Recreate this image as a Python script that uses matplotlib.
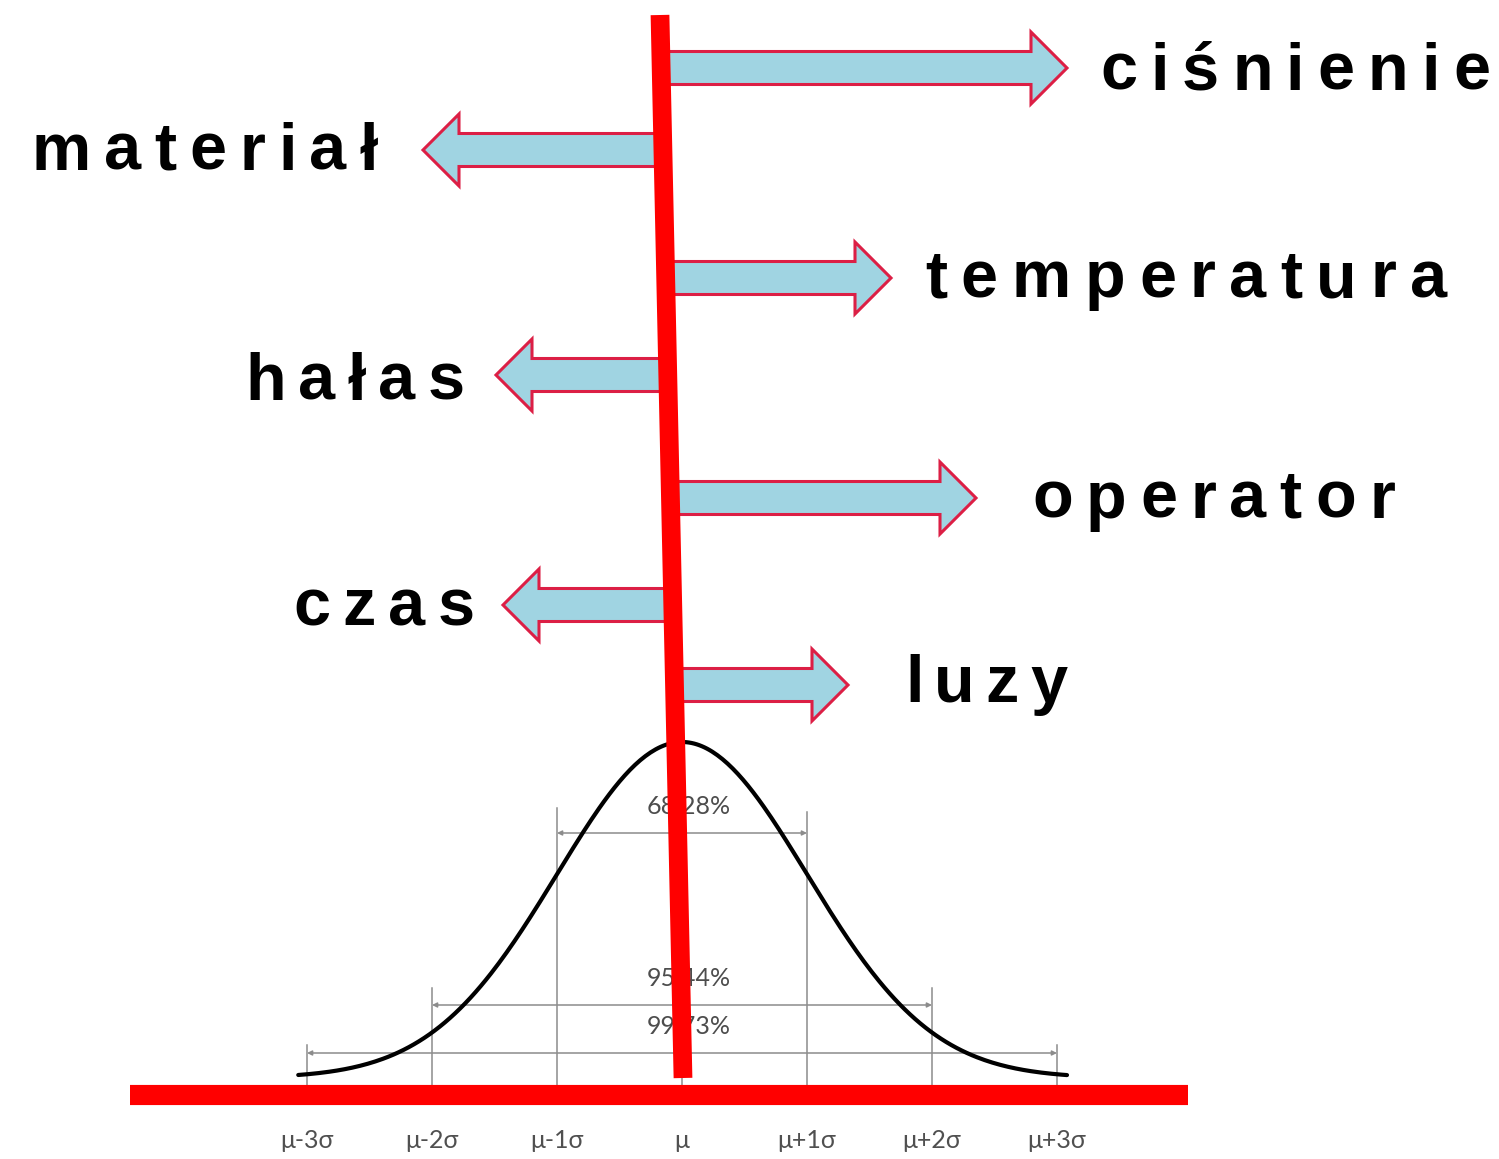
import numpy as np
import matplotlib.pyplot as plt
from matplotlib.patches import FancyArrow

# factors acting on the process, arrows left (-1) or right (+1) of the mean line
factors = ['ciśnienie', 'materiał', 'temperatura', 'hałas', 'operator', 'czas', 'luzy']
side = [1, -1, 1, -1, 1, -1, 1]
arrow_y = [68, 150, 278, 375, 498, 605, 685]
arrow_tip = [1067, 423, 891, 496, 976, 503, 848]
label_x0 = [1100, 32, 925, 245, 1032, 293, 905]
label_x1 = [1490, 378, 1447, 465, 1395, 475, 1067]
label_base = [90, 170, 297, 400, 518, 625, 702]

# normal distribution part
sigma_k = [-3, -2, -1, 0, 1, 2, 3]
tick_labels = ['μ-3σ', 'μ-2σ', 'μ-1σ', 'μ', 'μ+1σ', 'μ+2σ', 'μ+3σ']
cover_k = [1, 2, 3]
cover_pct = ['68.28%', '95.44%', '99.73%']
cover_y = [833, 1005, 1053]
guide_top = [1045, 988, 808, 1075, 812, 988, 1045]

mu_px, sig_px = 682, 125
base_px, peak_px = 1078, 742

fig = plt.figure(figsize=(14.99, 11.59), dpi=100)
ax = fig.add_axes([0, 0, 1, 1])
ax.set_xlim(0, 1499)
ax.set_ylim(1159, 0)
ax.axis('off')

gray = '#8c8c8c'
small_font = ['Lato', 'DejaVu Sans']

# guide lines at sigma positions
for k, top, lab in zip(sigma_k, guide_top, tick_labels):
    x = mu_px + k * sig_px
    ax.plot([x, x], [top, 1090], color=gray, lw=1.1, zorder=1)
    ax.text(x, 1140, lab, ha='center', va='center',
            fontsize=18, color='#505050', family=small_font)

# coverage dimension lines
for k, pct, y in zip(cover_k, cover_pct, cover_y):
    x0, x1 = mu_px - k * sig_px, mu_px + k * sig_px
    ax.annotate('', xy=(x0, y), xytext=(x1, y),
                arrowprops=dict(arrowstyle='<|-|>', mutation_scale=7, color=gray, lw=1.1,
                                shrinkA=0, shrinkB=0), zorder=1)
    ax.text(mu_px + 7, y - 26, pct, ha='center', va='center', fontsize=18,
            color='#4d4d4d', family=small_font, zorder=3)

# bell curve
z = np.linspace(-3.07, 3.08, 300)
ax.plot(mu_px + z * sig_px, base_px - (base_px - peak_px) * np.exp(-z ** 2 / 2),
        color='black', lw=3, zorder=2, solid_capstyle='round')

# mean line (slightly tilted) and base line
top_x, top_y, bot_x, bot_y = 660, 15, 683, 1078
ax.plot([top_x, bot_x], [top_y, bot_y], color='#ff0000', lw=13.5, solid_capstyle='butt', zorder=5)
ax.plot([130, 1188], [1095, 1095], color='#ff0000', lw=14.5, solid_capstyle='butt', zorder=5)


def line_x(y):
    return top_x + (bot_x - top_x) * (y - top_y) / (bot_y - top_y)


renderer = fig.canvas.get_renderer()


def spaced_text(x0, x1, y, s):
    # letter-spaced bold label stretched between x0 and x1
    items = []
    for ch in s:
        t = ax.text(0, y, ch, fontsize=48, fontweight='bold', family='Liberation Sans',
                    va='baseline', ha='left', zorder=6)
        items.append((t, t.get_window_extent(renderer).width))
    gap = (x1 - x0 - sum(w for _, w in items)) / (len(items) - 1)
    cx = x0
    for t, w in items:
        t.set_x(cx)
        cx += w + gap


for name, sd, y, tip, lx0, lx1, lb in zip(factors, side, arrow_y, arrow_tip,
                                          label_x0, label_x1, label_base):
    x0 = line_x(y)
    ax.add_patch(FancyArrow(x0, y, tip - x0, 0, width=33, head_width=72, head_length=36,
                            length_includes_head=True, fc='#a0d4e2', ec='#dc1f45',
                            lw=2.2, zorder=4))
    spaced_text(lx0, lx1, lb, name)

fig.savefig('out.png', dpi=100)
